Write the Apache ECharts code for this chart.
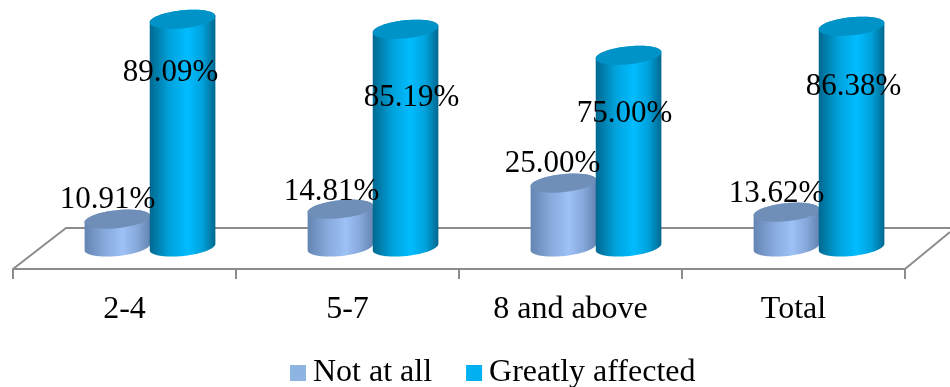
<!DOCTYPE html>
<html>
<head>
<meta charset="utf-8">
<style>html,body{margin:0;padding:0;background:#fff}#chart{width:950px;height:387px}</style>
<script src="https://cdn.jsdelivr.net/npm/echarts@6/dist/echarts.min.js"></script>
</head>
<body>
<div id="chart"></div>
<script>
// Share of respondents by group size
const categories = ['2-4', '5-7', '8 and above', 'Total'];
const notAtAll = [10.91, 14.81, 25.00, 13.62];
const greatlyAffected = [89.09, 85.19, 75.00, 86.38];

// Hand-placed label anchors, as [dx, dy] in pixels from each cylinder's top centre
const notAtAllLabelShift = [[-10, -19], [-9, -17], [-11, -19], [-10, -18]];
const greatlyLabelShift = [[-12, 54], [6, 69], [-4, 59], [2, 61]];

const FONT = '"Liberation Serif", "Times New Roman", serif';
const TILT = -6 * Math.PI / 180;

function ellipsePoint(cx, cy, rx, ry, t) {
  const x = rx * Math.cos(t), y = ry * Math.sin(t);
  return [cx + x * Math.cos(TILT) - y * Math.sin(TILT),
          cy + x * Math.sin(TILT) + y * Math.cos(TILT)];
}

function ellipseArc(cx, cy, rx, ry, from, to) {
  const pts = [];
  for (let i = 0; i <= 48; i++) pts.push(ellipsePoint(cx, cy, rx, ry, from + (to - from) * i / 48));
  return pts;
}

// Builds one cylinder with its value label
function cylinder(side, colors, shifts, z2) {
  return function (params, api) {
    const i = api.value(0), v = api.value(1);
    const top = api.coord([i, v]), base = api.coord([i, 0]);
    const band = api.size([1, 0])[0];
    const rx = band * 0.148, ry = 9;
    const cx = top[0] + side * band * 0.146;
    const body = ellipseArc(cx, top[1], rx, ry, Math.PI, 2 * Math.PI)
      .concat(ellipseArc(cx, base[1], rx, ry, 0, Math.PI));
    const shift = shifts[i];
    return {
      type: 'group',
      children: [
        {
          type: 'polygon', z2: z2,
          shape: { points: body },
          style: { fill: new echarts.graphic.LinearGradient(0, 0, 1, 0, [
            { offset: 0, color: colors.edge },
            { offset: 0.3, color: colors.soft },
            { offset: 0.58, color: colors.mid },
            { offset: 0.8, color: colors.soft },
            { offset: 1, color: colors.edge }
          ]) }
        },
        {
          type: 'polygon', z2: z2 + 1,
          shape: { points: ellipseArc(cx, top[1], rx, ry, 0, 2 * Math.PI) },
          style: { fill: colors.cap }
        },
        {
          type: 'text', z2: 100,
          x: cx + shift[0], y: top[1] + shift[1],
          style: {
            text: v.toFixed(2) + '%', font: '31px ' + FONT, fill: '#000',
            align: 'center', verticalAlign: 'middle'
          }
        }
      ]
    };
  };
}

const chart = echarts.init(document.getElementById('chart'), null, { renderer: 'canvas' });

const lightColors = { edge: '#6485b2', soft: '#86a8db', mid: '#9ec1f6', cap: '#6f8eb8' };
const blueColors = { edge: '#00688f', soft: '#00a2dc', mid: '#00bcff', cap: '#0093c8' };

chart.setOption({
  animation: false,
  backgroundColor: '#fff',
  grid: [
    { left: 13, width: 892, top: 17, height: 252 },
    { left: 38.5, width: 892, top: 17, height: 230 }
  ],
  xAxis: [
    {
      type: 'category', gridIndex: 0, data: categories,
      axisLine: { show: true, onZero: false, lineStyle: { color: '#8c8c8c', width: 2 } },
      axisTick: { show: true, length: 10, lineStyle: { color: '#8c8c8c', width: 2 } },
      axisLabel: { color: '#000', fontFamily: FONT, fontSize: 32, margin: 25 }
    },
    { type: 'category', gridIndex: 1, data: categories, show: false }
  ],
  yAxis: [
    { type: 'value', gridIndex: 0, min: 0, max: 90, show: false },
    { type: 'value', gridIndex: 1, min: 0, max: 90, show: false }
  ],
  legend: {
    left: 290, top: 357, padding: 0,
    itemWidth: 16, itemHeight: 16, itemGap: 34, icon: 'rect',
    textStyle: { color: '#000', fontFamily: FONT, fontSize: 32, padding: [0, 0, 0, 2] },
    data: ['Not at all', 'Greatly affected']
  },
  // Back edge and sides of the chart floor
  graphic: [
    {
      type: 'polyline', z: 1, silent: true,
      shape: { points: [[13, 269], [66, 228], [950, 228]] },
      style: { stroke: '#8c8c8c', lineWidth: 2, fill: null }
    },
    {
      type: 'line', z: 1, silent: true,
      shape: { x1: 905, y1: 269, x2: 950, y2: 232 },
      style: { stroke: '#8c8c8c', lineWidth: 2 }
    }
  ],
  series: [
    {
      name: 'Not at all', type: 'custom', xAxisIndex: 1, yAxisIndex: 1,
      itemStyle: { color: '#8eb4e3' },
      renderItem: cylinder(-1, lightColors, notAtAllLabelShift, 5),
      encode: { x: 0, y: 1 },
      data: notAtAll.map((v, i) => [i, v])
    },
    {
      name: 'Greatly affected', type: 'custom', xAxisIndex: 1, yAxisIndex: 1,
      itemStyle: { color: '#00b0f0' },
      renderItem: cylinder(1, blueColors, greatlyLabelShift, 10),
      encode: { x: 0, y: 1 },
      data: greatlyAffected.map((v, i) => [i, v])
    }
  ]
});
</script>
</body>
</html>
